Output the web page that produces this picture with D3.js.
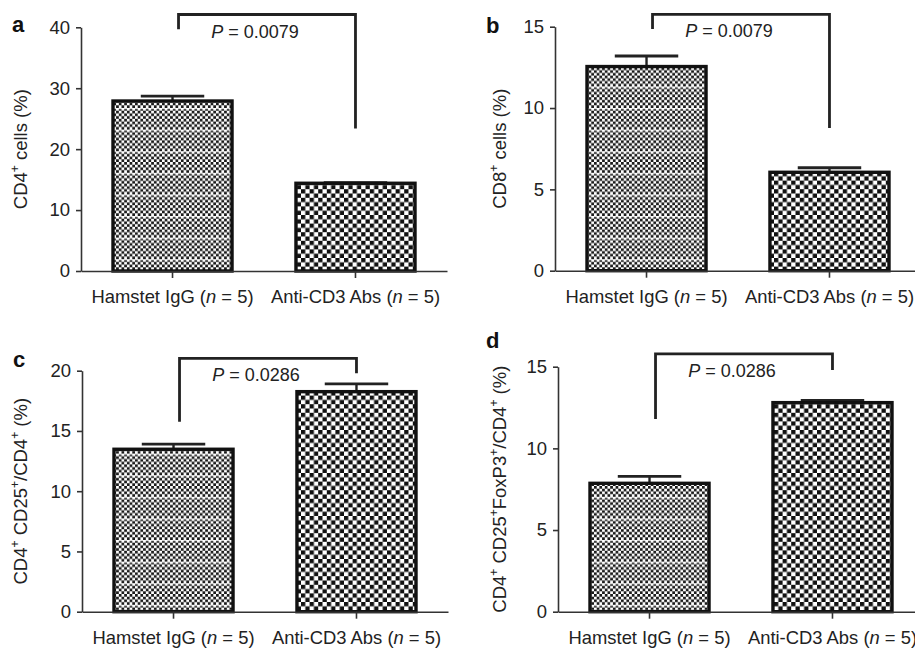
<!DOCTYPE html>
<html>
<head>
<meta charset="utf-8">
<script src="https://cdn.jsdelivr.net/npm/d3@7"></script>
<style>
  html, body { margin: 0; padding: 0; background: #fff; }
  svg { display: block; font-family: "Liberation Sans", Arial, Helvetica, sans-serif; }
</style>
</head>
<body>
<svg id="chart" width="915" height="648"></svg>
<script>
// ---------------- DATA ----------------
const panelIds = ['a', 'b', 'c', 'd'];
const categories = ['Hamstet IgG', 'Anti-CD3 Abs'];
const groupN = [5, 5];

const meanA = [27.9, 14.4];
const semA  = [0.8, 0.1];
const meanB = [12.55, 6.05];
const semB  = [0.65, 0.28];
const meanC = [13.48, 18.26];
const semC  = [0.42, 0.64];
const meanD = [7.86, 12.8];
const semD  = [0.43, 0.14];

const ticksA = [0, 10, 20, 30, 40];
const ticksB = [0, 5, 10, 15];
const ticksC = [0, 5, 10, 15, 20];
const ticksD = [0, 5, 10, 15];

const pValues = ['0.0079', '0.0079', '0.0286', '0.0286'];
// bracket: [top, left leg end, right leg end] in data units
const bracketA = [42.1, 39.7, 23.4];
const bracketB = [15.76, 14.86, 8.77];
const bracketC = [21.03, 15.77, 19.78];
const bracketD = [15.78, 11.8, 14.8];

const yLabelA = [['CD4', 0], ['+', 1], [' cells (%)', 0]];
const yLabelB = [['CD8', 0], ['+', 1], [' cells (%)', 0]];
const yLabelC = [['CD4', 0], ['+', 1], [' CD25', 0], ['+', 1], ['/CD4', 0], ['+', 1], [' (%)', 0]];
const yLabelD = [['CD4', 0], ['+', 1], [' CD25', 0], ['+', 1], ['FoxP3', 0], ['+', 1], ['/CD4', 0], ['+', 1], [' (%)', 0]];

const panels = [
  { id: 'a', mean: meanA, sem: semA, ticks: ticksA, p: pValues[0], br: bracketA, ylab: yLabelA },
  { id: 'b', mean: meanB, sem: semB, ticks: ticksB, p: pValues[1], br: bracketB, ylab: yLabelB },
  { id: 'c', mean: meanC, sem: semC, ticks: ticksC, p: pValues[2], br: bracketC, ylab: yLabelC },
  { id: 'd', mean: meanD, sem: semD, ticks: ticksD, p: pValues[3], br: bracketD, ylab: yLabelD }
];

// ---------------- LAYOUT ----------------
const layout = {
  a: { L: 81,  top: 27.3,  bottom: 271,   letterX: 12,  letterY: 32,  ylx: 21 },
  b: { L: 555, top: 26.7,  bottom: 270.7, letterX: 486, letterY: 33,  ylx: 500 },
  c: { L: 82,  top: 370.7, bottom: 611.7, letterX: 13,  letterY: 367, ylx: 21 },
  d: { L: 558, top: 366.7, bottom: 611.7, letterX: 486, letterY: 348, ylx: 500 }
};
const plotW = 366;
const ink = '#222';
const axisCol = '#333';

const svg = d3.select('#chart');

// patterns
const defs = svg.append('defs');
const fine = defs.append('pattern').attr('id', 'fineChecker')
  .attr('patternUnits', 'userSpaceOnUse').attr('width', 5.4).attr('height', 21.6);
fine.append('rect').attr('width', 5.4).attr('height', 21.6).attr('fill', '#fff');
for (let r = 0; r < 8; r++) {
  fine.append('rect').attr('x', (r % 2) * 2.7).attr('y', r * 2.7).attr('width', 2.7).attr('height', 2.7).attr('fill', '#1a1a1a');
}
fine.append('rect').attr('x', 0).attr('y', 0).attr('width', 5.4).attr('height', 1.2).attr('fill', '#fff').attr('opacity', 0.8);

const coarse = defs.append('pattern').attr('id', 'coarseChecker')
  .attr('patternUnits', 'userSpaceOnUse').attr('width', 8.6).attr('height', 8.6);
coarse.append('rect').attr('width', 8.6).attr('height', 8.6).attr('fill', '#fff');
coarse.append('rect').attr('x', 0).attr('y', 0).attr('width', 4.3).attr('height', 4.3).attr('fill', '#111');
coarse.append('rect').attr('x', 4.3).attr('y', 4.3).attr('width', 4.3).attr('height', 4.3).attr('fill', '#111');

const fills = ['url(#fineChecker)', 'url(#coarseChecker)'];

panels.forEach(pn => {
  const lay = layout[pn.id];
  const g = svg.append('g');
  const yMax = pn.ticks[pn.ticks.length - 1];
  const y = d3.scaleLinear().domain([0, yMax]).range([lay.bottom, lay.top]);
  const x = d3.scaleBand().domain(categories).range([lay.L, lay.L + plotW])
    .paddingInner(0.333).paddingOuter(0.1667);
  const bw = x.bandwidth();

  // error bars (one-sided, above)
  categories.forEach((c, i) => {
    const cx = x(c) + bw / 2;
    const yt = y(pn.mean[i] + pn.sem[i]);
    g.append('line').attr('x1', cx).attr('x2', cx).attr('y1', y(pn.mean[i])).attr('y2', yt)
      .attr('stroke', ink).attr('stroke-width', 2.4);
    g.append('line').attr('x1', cx - bw * 0.26).attr('x2', cx + bw * 0.26).attr('y1', yt).attr('y2', yt)
      .attr('stroke', ink).attr('stroke-width', 2.8);
  });

  // bars
  g.selectAll('rect.bar').data(categories).enter().append('rect')
    .attr('class', 'bar')
    .attr('x', c => x(c) + 1.5)
    .attr('width', bw - 3)
    .attr('y', (c, i) => y(pn.mean[i]))
    .attr('height', (c, i) => y(0) - y(pn.mean[i]))
    .attr('fill', (c, i) => fills[i])
    .attr('stroke', '#111').attr('stroke-width', 3.4);

  // y axis
  const yAxis = g.append('g').attr('transform', `translate(${lay.L},0)`)
    .call(d3.axisLeft(y).tickValues(pn.ticks).tickSize(5).tickSizeOuter(0).tickPadding(6).tickFormat(d3.format('d')));
  yAxis.select('.domain').attr('stroke', axisCol).attr('stroke-width', 1.6);
  yAxis.selectAll('.tick line').attr('stroke', axisCol).attr('stroke-width', 1.6);
  yAxis.selectAll('.tick text').attr('font-size', 18.5).attr('fill', ink).attr('font-family', null);

  // x axis
  const xAxis = g.append('g').attr('transform', `translate(0,${lay.bottom})`)
    .call(d3.axisBottom(x).tickSize(7).tickSizeOuter(0).tickFormat(''));
  xAxis.select('.domain').attr('stroke', axisCol).attr('stroke-width', 1.6);
  xAxis.selectAll('.tick line').attr('stroke', axisCol).attr('stroke-width', 1.6);

  // x tick labels
  categories.forEach((c, i) => {
    const t = g.append('text').attr('x', x(c) + bw / 2).attr('y', lay.bottom + 32)
      .attr('text-anchor', 'middle').attr('font-size', 18.4).attr('fill', ink);
    t.append('tspan').text(c + ' (');
    t.append('tspan').attr('font-style', 'italic').text('n');
    t.append('tspan').text(' = ' + groupN[i] + ')');
  });

  // y label
  const yl = g.append('text')
    .attr('transform', `translate(${lay.ylx + 6},${(lay.top + lay.bottom) / 2}) rotate(-90)`)
    .attr('text-anchor', 'middle').attr('font-size', 18.5).attr('fill', ink);
  pn.ylab.forEach(([s, sup], k) => {
    const ts = yl.append('tspan').text(s);
    if (sup) ts.attr('font-size', 12).attr('dy', -8);
    else if (k > 0 && pn.ylab[k - 1][1]) ts.attr('dy', 8);
  });

  // significance bracket
  const xl = x(categories[0]) + bw / 2 + 6;
  const xr = x(categories[1]) + bw / 2;
  g.append('path')
    .attr('d', `M${xl},${y(pn.br[1])}V${y(pn.br[0])}H${xr}V${y(pn.br[2])}`)
    .attr('fill', 'none').attr('stroke', ink).attr('stroke-width', 2.8);
  const pt = g.append('text').attr('x', (xl + xr) / 2 - 12).attr('y', y(pn.br[0]) + 23)
    .attr('text-anchor', 'middle').attr('font-size', 18).attr('fill', ink);
  pt.append('tspan').attr('font-style', 'italic').text('P');
  pt.append('tspan').text(' = ' + pn.p);

  // panel letter
  g.append('text').attr('x', lay.letterX).attr('y', lay.letterY)
    .attr('font-size', 22).attr('font-weight', 'bold').attr('fill', '#111').text(pn.id);
});
</script>
</body>
</html>
